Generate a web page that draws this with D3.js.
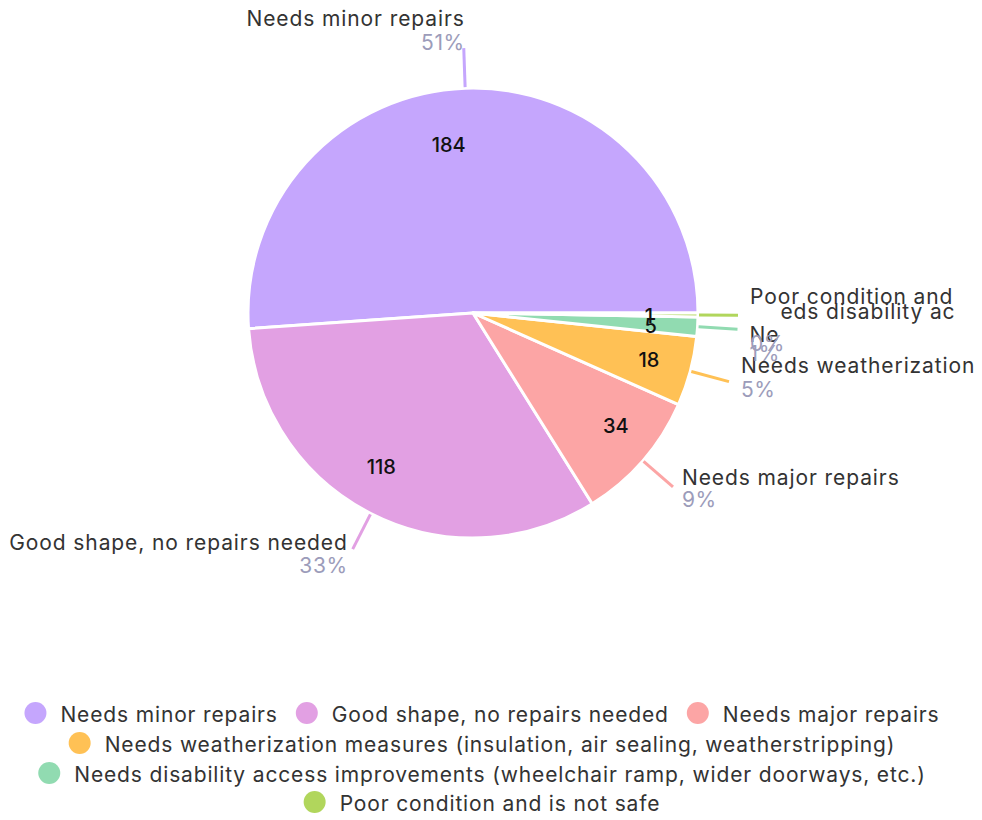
<!DOCTYPE html>
<html>
<head>
<meta charset="utf-8">
<script src="https://cdn.jsdelivr.net/npm/d3@7"></script>
<style>
  html, body { margin: 0; padding: 0; background: #fff; }
  svg { display: block; }
  text { font-family: "Inter", "Lato", sans-serif; }
</style>
</head>
<body>
<svg id="chart" width="982" height="820"></svg>
<script>
// ---------- data ----------
const categories = [
  "Needs minor repairs",
  "Good shape, no repairs needed",
  "Needs major repairs",
  "Needs weatherization measures (insulation, air sealing, weatherstripping)",
  "Needs disability access improvements (wheelchair ramp, wider doorways, etc.)",
  "Poor condition and is not safe"
];
const values = [184, 118, 34, 18, 5, 1];
const outerLabels = [
  "Needs minor repairs",
  "Good shape, no repairs needed",
  "Needs major repairs",
  "Needs weatherization",
  "Needs disability access improvements (wheelchair ramp, wider doorways, etc.)",
  "Poor condition and is not safe"
];
const colors = ["#c5a6fd", "#e2a0e3", "#fca5a5", "#ffc155", "#91dbb1", "#b1d65c"];

// ---------- layout (not data) ----------
const W = 982, H = 820;
const cx = 473, cy = 313, R = 225;
// per-slice label tweaks relative to the leader end point
const labelLayout = [
  { anchor: "end",   dx: 1,  nameDy: -22, pctDy: 2,  innerDx: -18, innerDy: 12 },
  { anchor: "end",   dx: -5, nameDy: 1,   pctDy: 24, innerDx: -10, innerDy: -6 },
  { anchor: "start", dx: 9,  nameDy: -2,  pctDy: 20, innerDx: 7,   innerDy: -5 },
  { anchor: "start", dx: 12, nameDy: -9,  pctDy: 15, innerDx: 2,   innerDy: 0 },
  { anchor: "start", dx: 12, nameDy: 13,  pctDy: 32, innerDx: -2,  innerDy: 2, split: 2, splitDy: -23 },
  { anchor: "start", dx: 12, nameDy: -11, pctDy: 36, innerDx: -4,  innerDy: 1 }
];

const svg = d3.select("#chart");
const total = d3.sum(values);
const data = categories.map((c, i) => ({ cat: c, value: values[i], label: outerLabels[i], color: colors[i], i }));

const pie = d3.pie().sort(null).value(d => d.value)
  .startAngle(Math.PI / 2).endAngle(Math.PI / 2 - 2 * Math.PI);
const arcs = pie(data);

const arc = d3.arc().innerRadius(0).outerRadius(R);
const innerArc = d3.arc().innerRadius(180).outerRadius(180);

const g = svg.append("g").attr("transform", `translate(${cx},${cy})`);

g.selectAll("path.slice").data(arcs).join("path")
  .attr("class", "slice")
  .attr("d", arc)
  .attr("fill", d => d.data.color)
  .attr("stroke", "#fff")
  .attr("stroke-width", 3)
  .attr("stroke-linejoin", "round");

// leader lines
function polar(a, r) { return [Math.sin(a) * r, -Math.cos(a) * r]; }
const mid = d => (d.startAngle + d.endAngle) / 2;

g.selectAll("line.leader").data(arcs).join("line")
  .attr("class", "leader")
  .attr("x1", d => polar(mid(d), R + 1)[0])
  .attr("y1", d => polar(mid(d), R + 1)[1])
  .attr("x2", d => polar(mid(d), R + 40)[0])
  .attr("y2", d => polar(mid(d), R + 40)[1])
  .attr("stroke", d => d.data.color)
  .attr("stroke-width", 3);

// inner value labels
g.selectAll("text.val").data(arcs).join("text")
  .attr("class", "val")
  .attr("x", d => innerArc.centroid(d)[0] + labelLayout[d.data.i].innerDx)
  .attr("y", d => innerArc.centroid(d)[1] + labelLayout[d.data.i].innerDy)
  .attr("text-anchor", "middle")
  .attr("dominant-baseline", "central")
  .attr("font-size", 20)
  .attr("font-weight", 500)
  .attr("fill", "#111")
  .text(d => d.data.value);

// outer labels
svg.append("defs").append("clipPath").attr("id", "clipR")
  .append("rect").attr("x", 0).attr("y", 0).attr("width", 956).attr("height", H);

const lab = svg.append("g").attr("transform", `translate(${cx},${cy})`);
const clipped = svg.append("g").attr("clip-path", "url(#clipR)")
  .append("g").attr("transform", `translate(${cx},${cy})`);

arcs.forEach(d => {
  const L = labelLayout[d.data.i];
  const p = polar(mid(d), R + 40);
  const x = p[0] + L.dx;
  const host = (d.data.i >= 4) ? clipped : lab;
  const pct = Math.round(d.data.value / total * 100) + "%";

  // percentage
  host.append("text")
    .attr("x", x).attr("y", p[1] + L.pctDy)
    .attr("text-anchor", L.anchor)
    .attr("font-size", 21)
    .attr("letter-spacing", "0.6px")
    .attr("fill", "#9c9cba")
    .text(pct);

  if (L.split) {
    const first = host.append("text")
      .attr("x", x).attr("y", p[1] + L.nameDy)
      .attr("text-anchor", "start")
      .attr("font-size", 21).attr("letter-spacing", "0.9px")
      .attr("fill", "#333")
      .text(d.data.label.slice(0, L.split));
    const w = first.node().getComputedTextLength();
    host.append("text")
      .attr("x", x + w + 1).attr("y", p[1] + L.nameDy + L.splitDy)
      .attr("text-anchor", "start")
      .attr("font-size", 21).attr("letter-spacing", "0.9px")
      .attr("fill", "#333")
      .text(d.data.label.slice(L.split));
  } else {
    host.append("text")
      .attr("x", x).attr("y", p[1] + L.nameDy)
      .attr("text-anchor", L.anchor)
      .attr("font-size", 21).attr("letter-spacing", "0.9px")
      .attr("fill", "#333")
      .text(d.data.label);
  }
});

// ---------- legend ----------
const legend = svg.append("g");
const rowYs = [713, 743, 773, 802];
const maxRowW = 950, dot = 22, gap = 14, itemGap = 18, centerX = 482;
const items = data.map(d => {
  const t = legend.append("text")
    .attr("font-size", 21).attr("letter-spacing", "0.85px")
    .attr("fill", "#333")
    .attr("dominant-baseline", "central")
    .text(d.cat);
  const w = t.node().getComputedTextLength();
  return { d, t, w: dot + gap + w };
});
const rows = [];
let cur = [], curW = 0;
items.forEach(it => {
  const add = (cur.length ? itemGap : 0) + it.w;
  if (cur.length && curW + add > maxRowW) { rows.push({ items: cur, w: curW }); cur = []; curW = 0; }
  curW += (cur.length ? itemGap : 0) + it.w;
  cur.push(it);
});
if (cur.length) rows.push({ items: cur, w: curW });
rows.forEach((row, ri) => {
  let x = centerX - row.w / 2;
  const y = rowYs[ri];
  row.items.forEach(it => {
    legend.append("circle").attr("cx", x + dot / 2).attr("cy", y).attr("r", dot / 2).attr("fill", it.d.color);
    it.t.attr("x", x + dot + gap).attr("y", y + 1);
    x += it.w + itemGap;
  });
});
</script>
</body>
</html>
